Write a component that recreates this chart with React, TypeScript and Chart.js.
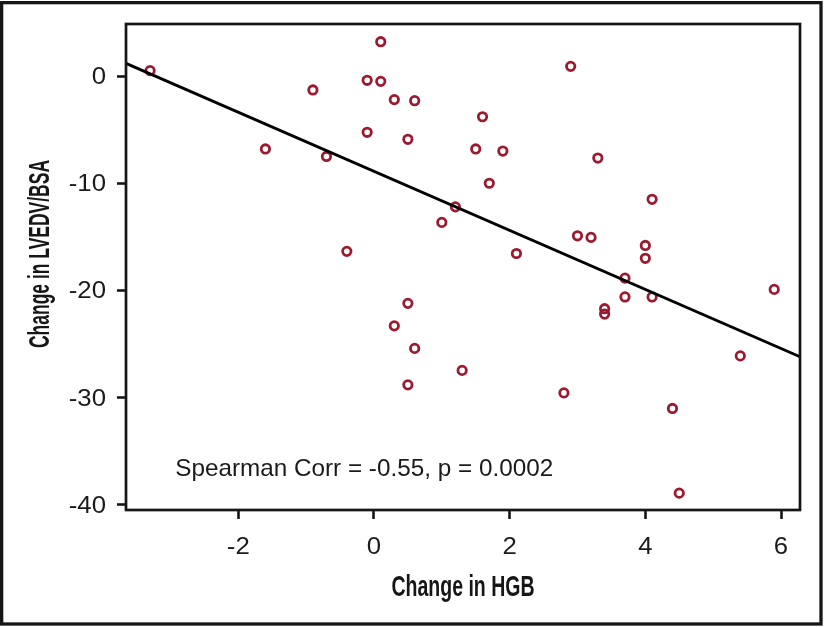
import { useEffect, useRef } from 'react';
import { Chart, registerables } from 'chart.js';

Chart.register(...registerables);

// Change in HGB (x) and change in LVEDV/BSA (y), one entry per patient
const hgbChange = [
  -3.3, 0.1, -0.1, 0.1, -0.9, 0.3, 0.6, -0.1, 0.5, -1.6, -0.7, -0.4, 0.5,
  2.9, 1.6, 1.5, 1.9, 3.3, 1.7, 4.1, 1.2, 1.0, 3.0, 3.2, 4.0, 4.0, 2.1,
  3.7, 3.7, 4.1, 5.9, 3.4, 3.4, 0.3, 0.6, 0.5, 1.3, 2.8, 4.4, 4.5, 5.4,
];
const lvedvChange = [
  0.5, 3.2, -0.4, -0.5, -1.3, -2.2, -2.3, -5.25, -5.9, -6.8, -7.5, -16.35, -21.2,
  0.9, -3.8, -6.8, -7.0, -7.65, -10.0, -11.5, -12.2, -13.65, -14.9, -15.05, -15.8, -17.0, -16.55,
  -18.85, -20.6, -20.6, -19.9, -21.7, -22.2, -23.3, -25.4, -28.8, -27.45, -29.55, -31.0, -38.9, -26.1,
];

// fitted regression line (end points at the axis limits)
const fitX = [-3.655, 6.28];
const fitY = [1.18, -26.18];

const xTicks = [-2, 0, 2, 4, 6];
const yTicks = [0, -10, -20, -30, -40];
const xRange = [-3.655, 6.28];
const yRange = [-40.47, 4.85];

const xTitle = 'Change in HGB';
const yTitle = 'Change in LVEDV/BSA';
const noteText = 'Spearman Corr = -0.55, p = 0.0002';
const noteAnchor = [-2.93, -37.3];

const FONT = '"Liberation Sans", Arial, Helvetica, sans-serif';
const INK = '#161616';
const RED = '#9c1a30';

function drawScaled(
  ctx: CanvasRenderingContext2D,
  text: string,
  x: number,
  y: number,
  sx: number,
  rotate: boolean,
) {
  ctx.save();
  ctx.translate(x, y);
  if (rotate) ctx.rotate(-Math.PI / 2);
  ctx.scale(sx, 1);
  ctx.fillText(text, 0, 0);
  ctx.restore();
}

function fitScale(ctx: CanvasRenderingContext2D, text: string, targetW: number) {
  return targetW / ctx.measureText(text).width;
}

const decor = {
  id: 'decor',
  afterDraw(chart: any) {
    const { ctx, chartArea: a, scales } = chart;
    ctx.save();
    ctx.strokeStyle = INK;
    // outer frame
    ctx.lineWidth = 3.3;
    ctx.strokeRect(1.65, 2.65, 819.35, 621.35);
    // plot box
    ctx.lineWidth = 2.7;
    ctx.strokeRect(a.left, a.top, a.right - a.left, a.bottom - a.top);

    // tick labels (wide face), placed from the scales' own ticks
    ctx.fillStyle = '#1a1a1a';
    ctx.font = `23px ${FONT}`;
    ctx.textBaseline = 'alphabetic';
    ctx.textAlign = 'center';
    scales.x.ticks.forEach((t: any) => {
      const px = scales.x.getPixelForValue(t.value);
      drawScaled(ctx, String(t.value), px, 554, 1.12, false);
    });
    ctx.textAlign = 'right';
    scales.y.ticks.forEach((t: any) => {
      const py = scales.y.getPixelForValue(t.value);
      drawScaled(ctx, String(t.value), 106, py + 8, 1.12, false);
    });

    // axis titles (condensed)
    ctx.fillStyle = INK;
    ctx.font = `bold 30px ${FONT}`;
    ctx.textAlign = 'center';
    drawScaled(ctx, xTitle, (a.left + a.right) / 2, 596, fitScale(ctx, xTitle, 143), false);
    drawScaled(ctx, yTitle, 49, 254, fitScale(ctx, yTitle, 188), true);

    // annotation
    ctx.font = `24px ${FONT}`;
    ctx.textAlign = 'left';
    ctx.fillStyle = '#1a1a1a';
    const nx = scales.x.getPixelForValue(noteAnchor[0]);
    const ny = scales.y.getPixelForValue(noteAnchor[1]);
    drawScaled(ctx, noteText, nx, ny, fitScale(ctx, noteText, 378), false);
    ctx.restore();
  },
};

export default function App() {
  const ref = useRef<HTMLCanvasElement | null>(null);

  useEffect(() => {
    document.body.style.margin = '0';
    const canvas = ref.current;
    if (!canvas) return;
    const points = hgbChange.map((x, i) => ({ x, y: lvedvChange[i] }));
    const fit = fitX.map((x, i) => ({ x, y: fitY[i] }));
    const gridOpts = {
      drawOnChartArea: false,
      drawTicks: true,
      tickLength: 9,
      tickWidth: 2.6,
      tickColor: INK,
    };
    const chart = new Chart(canvas, {
      type: 'scatter',
      data: {
        datasets: [
          {
            type: 'line',
            data: fit,
            borderColor: '#000',
            borderWidth: 2.9,
            pointRadius: 0,
            fill: false,
            order: 1,
          } as any,
          {
            data: points,
            pointRadius: 4.2,
            pointBorderWidth: 2.8,
            pointBackgroundColor: 'rgba(255,255,255,0)',
            pointBorderColor: RED,
            borderColor: RED,
            backgroundColor: 'rgba(255,255,255,0)',
            order: 2,
          },
        ],
      },
      options: {
        responsive: false,
        animation: false,
        devicePixelRatio: 1,
        layout: { padding: { top: 24, right: 26, left: 0, bottom: 0 } },
        plugins: { legend: { display: false }, tooltip: { enabled: false } },
        scales: {
          x: {
            type: 'linear',
            position: 'bottom',
            min: xRange[0],
            max: xRange[1],
            afterBuildTicks: (s: any) => {
              s.ticks = xTicks.map((v) => ({ value: v }));
            },
            afterFit: (s: any) => {
              s.height = 117;
            },
            grid: gridOpts,
            border: { display: false },
            ticks: { display: false, autoSkip: false },
          },
          y: {
            type: 'linear',
            position: 'left',
            min: yRange[0],
            max: yRange[1],
            afterBuildTicks: (s: any) => {
              s.ticks = yTicks.map((v) => ({ value: v }));
            },
            afterFit: (s: any) => {
              s.width = 126;
            },
            grid: gridOpts,
            border: { display: false },
            ticks: { display: false, autoSkip: false },
          },
        },
      },
      plugins: [decor],
    });
    return () => chart.destroy();
  }, []);

  return (
    <div style={{ width: 826, height: 627, background: '#fff' }}>
      <canvas ref={ref} width={826} height={627} style={{ display: 'block' }} />
    </div>
  );
}
